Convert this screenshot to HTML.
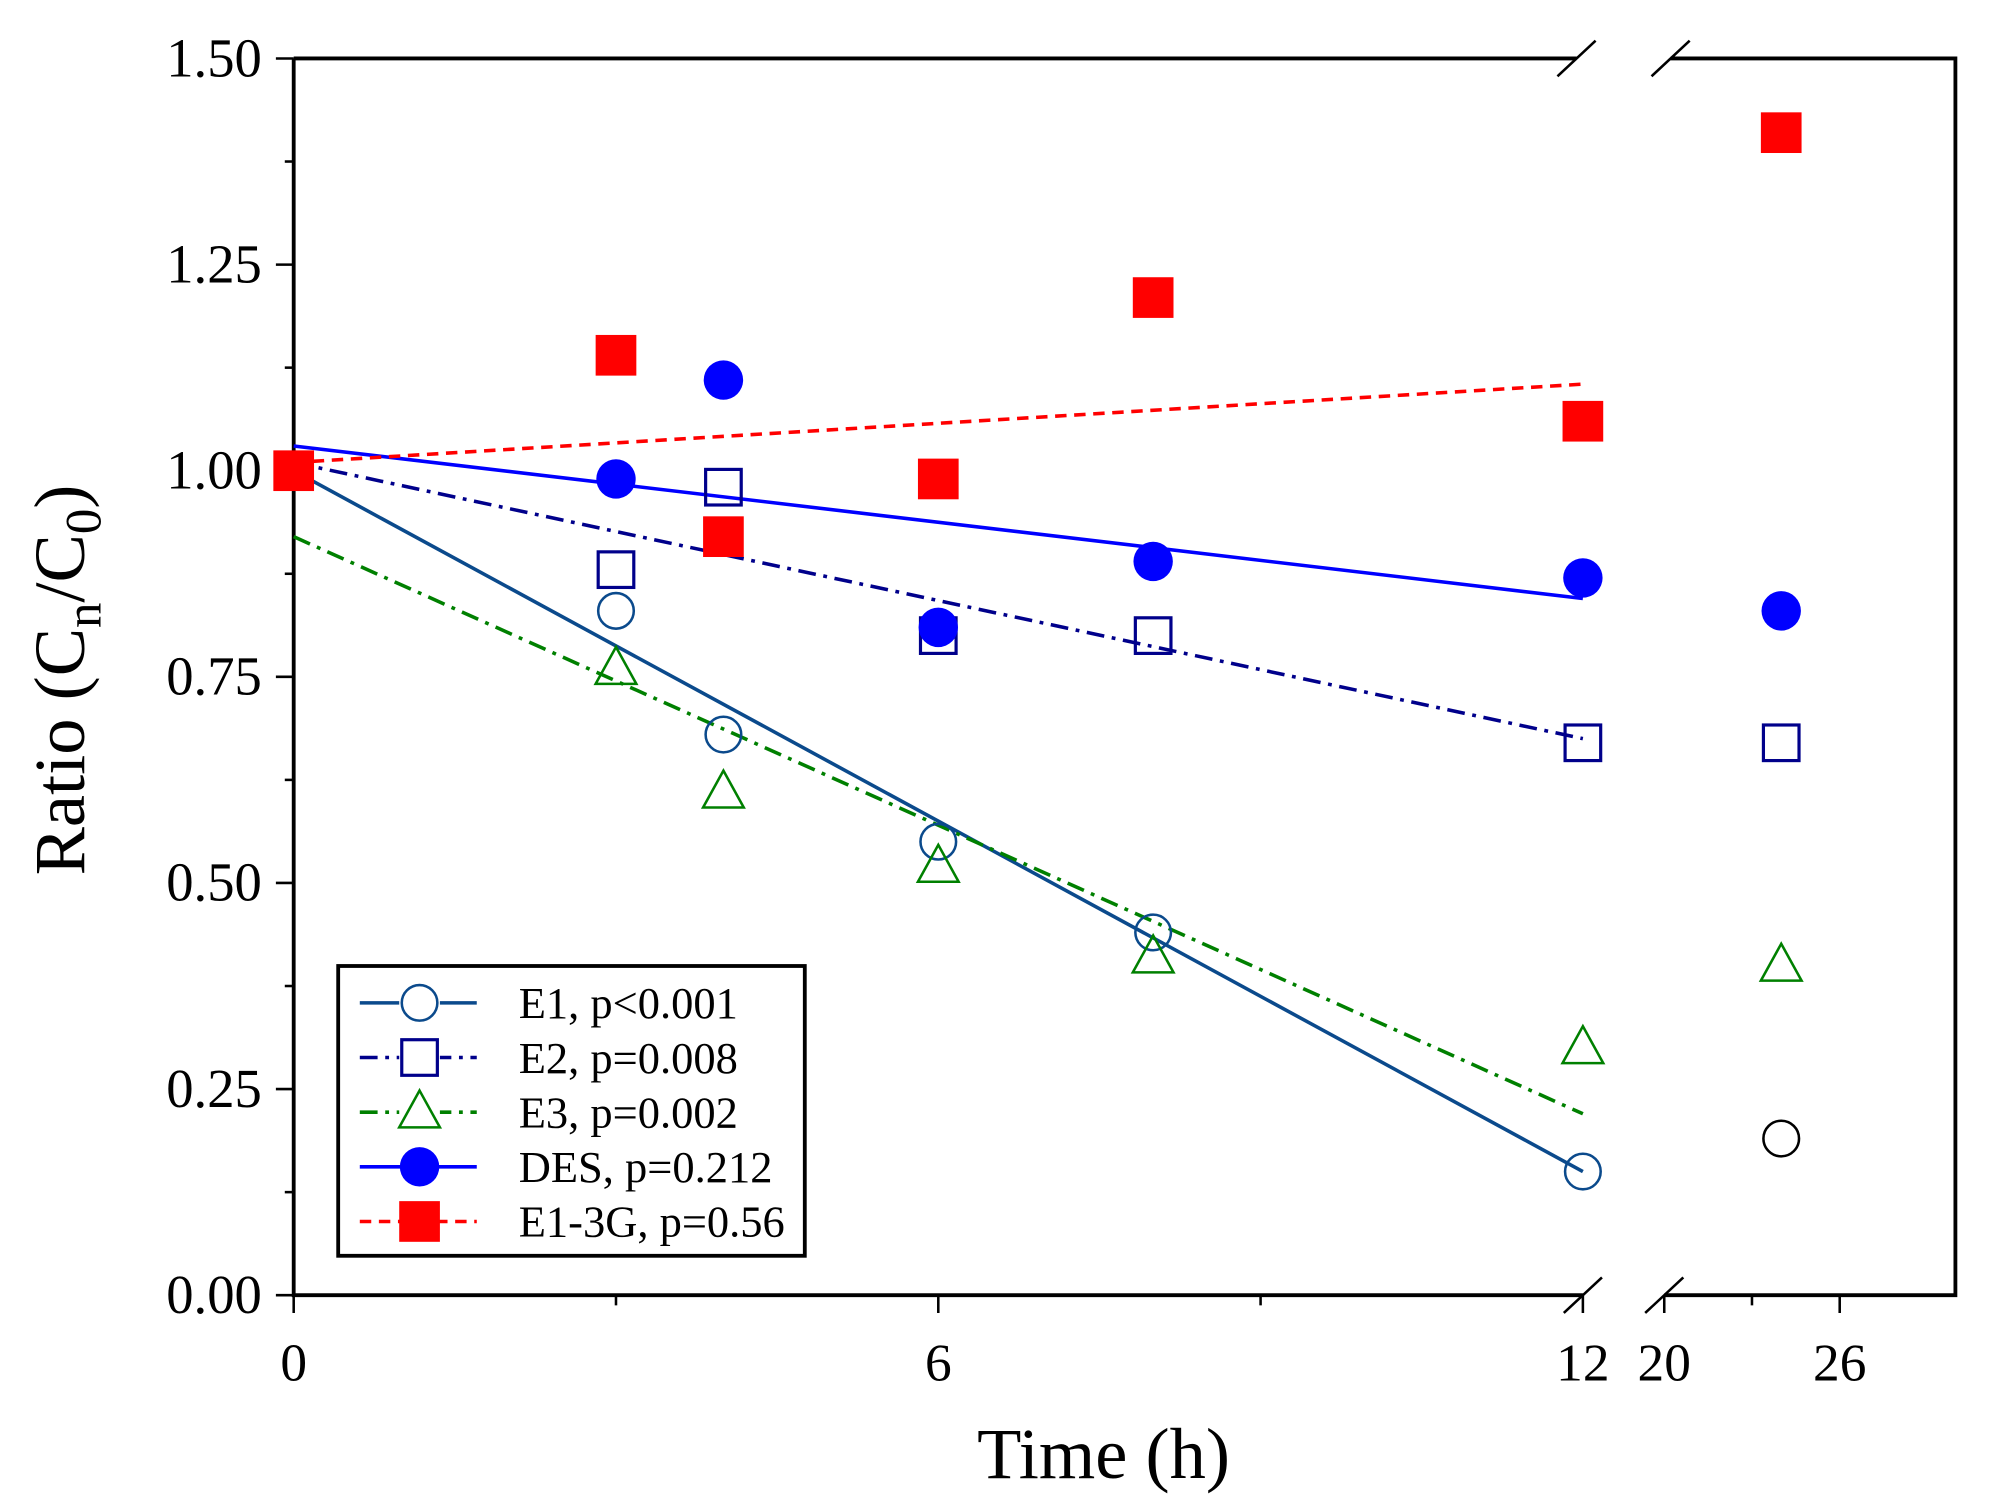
<!DOCTYPE html>
<html><head><meta charset="utf-8"><style>
html,body{margin:0;padding:0;background:#fff;}
svg{display:block;font-family:"Liberation Serif",serif;}
</style></head><body>
<svg id="chart" width="1991" height="1510" viewBox="0 0 1566 1188" preserveAspectRatio="none">
<g id="axes"></g><g id="fits"></g><g id="marks"></g><g id="legend"></g>
</svg>
<script>
const seriesNames=["E1, p<0.001","E2, p=0.008","E3, p=0.002","DES, p=0.212","E1-3G, p=0.56"];
const times=[0,3,4,6,8,12,24];
const e1Values=[1.00,0.83,0.68,0.55,0.44,0.15,0.19];
const e2Values=[1.00,0.88,0.98,0.80,0.80,0.67,0.67];
const e3Values=[null,0.76,0.61,0.52,0.41,0.30,0.40];
const desValues=[null,0.99,1.11,0.81,0.89,0.87,0.83];
const e13gValues=[1.00,1.14,0.92,0.99,1.21,1.06,1.41];
const fitStart=[1.00,1.01,0.92,1.03,1.01];
const fitEnd=[0.15,0.675,0.22,0.845,1.105];
const yTicks=["0.00","0.25","0.50","0.75","1.00","1.25","1.50"];
const xTicks1=[0,6,12];
const xTicks2=[20,26];

const NS="http://www.w3.org/2000/svg";
function mk(tag,attrs,parent){const e=document.createElementNS(NS,tag);for(const k in attrs)e.setAttribute(k,attrs[k]);parent.appendChild(e);return e;}
const L=231,T=46,R=1538,B=1019,X12=1245,X20=1309;
function xs(t){return t<=12?L+t*(X12-L)/12:X20+(t-20)*23;}
function ys(v){return B-v*(B-T)/1.5;}
const axes=document.getElementById('axes');
const st={stroke:"#000","stroke-width":3,fill:"none"};
let p;
p=mk('path',Object.assign({d:`M${L},${T}V${B}H${X12}M${X20},${B}H${R}V${T}H${X20+5}M${X12-5},${T}H${L}`},st),axes);

[[X12,B],[X20,B],[X12-5,T],[X20+5,T]].forEach(([x,y])=>{const s=mk('line',{x1:x-15,y1:y+14,x2:x+15,y2:y-14,stroke:"#000","stroke-width":2},axes);
});
for(let i=0;i<=12;i++){const v=i*0.125;const y=ys(v);const len=i%2==0?14:7;
 mk('line',{x1:L-len,y1:y,x2:L,y2:y,stroke:"#000","stroke-width":2},axes);
 if(i%2==0){const t=mk('text',{x:206,y:y+14,"text-anchor":"end","font-size":43},axes);t.textContent=yTicks[i/2];
 }}
[0,3,6,9,12].forEach(h=>{mk('line',{x1:xs(h),y1:B,x2:xs(h),y2:B+(h%6==0?14:8),stroke:"#000","stroke-width":2},axes);});
[20,23,26].forEach(h=>{mk('line',{x1:xs(h),y1:B,x2:xs(h),y2:B+(h==23?8:14),stroke:"#000","stroke-width":2},axes);});
xTicks1.concat(xTicks2).forEach(h=>{const t=mk('text',{x:xs(h),y:1086,"text-anchor":"middle","font-size":42},axes);t.textContent=h;
 });
let tt=mk('text',{x:868,y:1163,"text-anchor":"middle","font-size":57},axes);tt.textContent="Time (h)";

tt=mk('text',{transform:"translate(66,535) rotate(-90)","text-anchor":"middle","font-size":57},axes);
tt.innerHTML='Ratio (C<tspan font-size="40" dy="13">n</tspan><tspan dy="-13">/C</tspan><tspan font-size="40" dy="13">0</tspan><tspan dy="-13">)</tspan>';


const colors=["#0b4a8c","#00008b","#008000","#0000ff","#ff0000"];
const dashes=["none","14 6 3 6","14 6 3 6","none","9 6"];
const shapes=["ocircle","osquare","otri","fcircle","fsquare"];
const allVals=[e1Values,e2Values,e3Values,desValues,e13gValues];
const fits=document.getElementById('fits'),marks=document.getElementById('marks'),leg=document.getElementById('legend');
function marker(shape,x,y,c,parent){
 let e;
 if(shape=="ocircle")e=mk('circle',{cx:x,cy:y,r:14,fill:"none",stroke:c,"stroke-width":2},parent);
 if(shape=="fcircle")e=mk('circle',{cx:x,cy:y,r:15.5,fill:c},parent);
 if(shape=="osquare")e=mk('rect',{x:x-14,y:y-14,width:28,height:28,fill:"none",stroke:c,"stroke-width":2.5},parent);
 if(shape=="fsquare")e=mk('rect',{x:x-16,y:y-16,width:32,height:32,fill:c},parent);
 if(shape=="otri")e=mk('path',{d:`M${x},${y-17}L${x+16},${y+12}L${x-16},${y+12}Z`,fill:"none",stroke:c,"stroke-width":2},parent);
 return e;}
for(let s=0;s<5;s++){
 const l=mk('line',{x1:xs(0),y1:ys(fitStart[s]),x2:xs(12),y2:ys(fitEnd[s]),stroke:colors[s],"stroke-width":2.8,"stroke-dasharray":dashes[s]},fits);
 
 allVals[s].forEach((v,i)=>{if(v==null)return;
  const c=(s==0&&times[i]==24)?"#000":colors[s];
  const m=marker(shapes[s],xs(times[i]),ys(v),c,marks);
  });
}
const box=mk('rect',{x:266,y:760,width:367,height:228,fill:"#fff",stroke:"#000","stroke-width":3},leg);

for(let s=0;s<5;s++){const y=789+s*43;
 const g=mk('g',{},leg);
 mk('line',{x1:283,y1:y,x2:375,y2:y,stroke:colors[s],"stroke-width":2.8,"stroke-dasharray":dashes[s]},g);
 if(shapes[s][0]=="o")mk('rect',{x:314,y:y-15,width:32,height:30,fill:"#fff"},g);
 marker(shapes[s],330,y,colors[s],g);
 const t=mk('text',{x:408,y:y+12,"font-size":35},g);t.textContent=seriesNames[s];}
</script>
</body></html>
